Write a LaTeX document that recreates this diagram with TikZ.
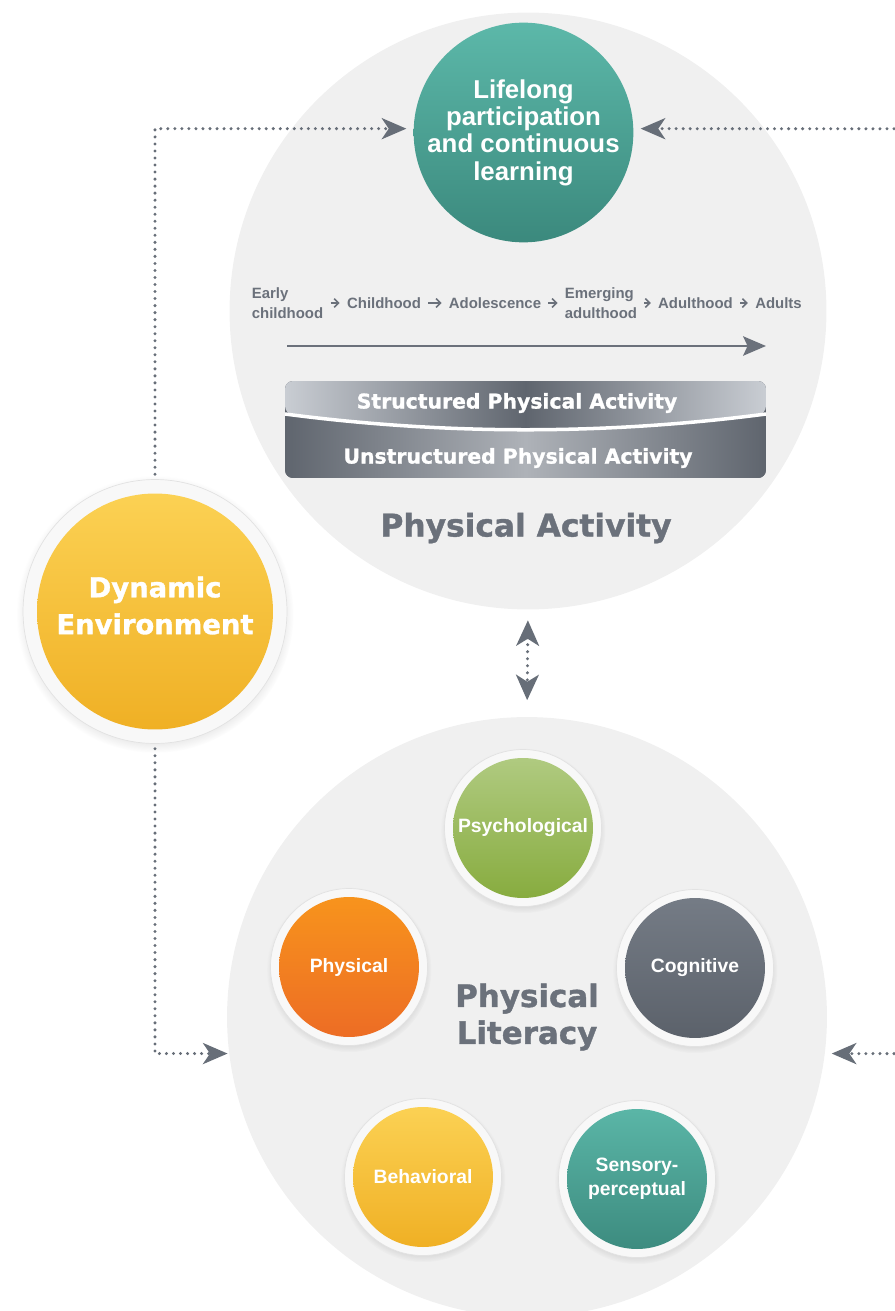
\documentclass[tikz,border=0pt]{standalone}
\usepackage{fontspec}
\setmainfont{Liberation Sans}
\newfontfamily\heavyfont{DejaVu Sans Bold}[FakeBold=1.2]
\usetikzlibrary{arrows.meta,shadows,calc,positioning}
\definecolor{discgray}{HTML}{F0F0F0}
\definecolor{txtgray}{HTML}{6B717B}
\definecolor{linkgray}{HTML}{676E78}
\definecolor{ringwhite}{HTML}{F8F8F8}
\definecolor{ringedge}{HTML}{E2E2E2}
\definecolor{tealA}{HTML}{5CB8A9}
\definecolor{tealB}{HTML}{3B897D}
\definecolor{greenA}{HTML}{B2CC84}
\definecolor{greenB}{HTML}{85AA3B}
\definecolor{orangeA}{HTML}{F8961C}
\definecolor{orangeB}{HTML}{EC6A25}
\definecolor{slateA}{HTML}{767D87}
\definecolor{slateB}{HTML}{5A6069}
\definecolor{goldA}{HTML}{FCD356}
\definecolor{goldB}{HTML}{EFAE22}
\definecolor{bandlt}{HTML}{C9CDD3}
\definecolor{banddk}{HTML}{5F656E}
\definecolor{bandmid}{HTML}{AEB2B8}
\tikzset{
    bigdisc/.style = {circle, fill=discgray, minimum size=12cm,
        inner sep=0pt, outer sep=0pt},
    ring/.style = {circle, fill=ringwhite, draw=ringedge, line width=0.4pt,
        inner sep=0pt, outer sep=0pt,
        circular drop shadow={shadow xshift=0pt, shadow yshift=-1.5pt,
            shadow scale=1.05, opacity=.3}},
    facet/.style 2 args = {ring, minimum size=3.14cm, text=white, align=center,
        font=\fontsize{11}{13.8}\selectfont\bfseries,
        path picture={\shade[top color=#1, bottom color=#2]
            (path picture bounding box.center) circle (1.4cm);}},
    lifebubble/.style = {circle, minimum size=4.26cm, inner sep=0pt,
        top color=tealA, bottom color=tealB, text=white, align=center,
        font=\fontsize{14.7}{15.6}\selectfont\bfseries},
    stage/.style = {inner sep=1.5pt, text=txtgray, align=left,
        font=\fontsize{8.5}{11}\selectfont\bfseries},
    stagearrow/.style = {draw=txtgray, line width=0.9pt,
        shorten <=2.5pt, shorten >=2.5pt,
        -{Straight Barb[length=2.5pt,width=5pt]}},
    tlarrow/.style = {draw=txtgray, line width=1.4pt,
        -{Stealth[length=13pt,width=11pt,inset=2.5pt]}},
    bandtext/.style = {text=white, inner sep=0pt,
        font=\heavyfont\fontsize{11.6}{14}\selectfont},
    title/.style = {text=txtgray, align=center, inner sep=0pt,
        font=\heavyfont\fontsize{17.8}{21}\selectfont},
    link/.style = {draw=linkgray, line width=1.9pt, line cap=round,
        dash pattern=on 0pt off 4pt,
        -{Stealth[length=14pt,width=12pt,inset=4pt]}},
    duo/.style = {link, {Stealth[length=14.5pt,width=13pt,inset=4pt]}-{Stealth[length=14.5pt,width=13pt,inset=4pt]}}
}

\begin{document}
\begin{tikzpicture}[x=0.02cm, y=-0.02cm]
    \useasboundingbox (0,0) rectangle (894,1311);
    % large discs
    \node [bigdisc, minimum size=11.94cm] (pa) at (528,311) {};
    \node [bigdisc] (plit) at (527,1017) {};

    % physical activity
    \node [lifebubble] (life) at (523.5,132.5) {Lifelong\\participation\\and continuous\\learning};
    \node [stage] (early) at (287.5,303) {Early\\childhood};
    \node [stage] (child) at (384,303) {Childhood};
    \node [stage] (adol) at (495,303) {Adolescence};
    \node [stage] (emerg) at (601,303) {Emerging\\adulthood};
    \node [stage] (adulth) at (695.5,303) {Adulthood};
    \node [stage] (adults) at (778.5,303) {Adults};
    \draw [stagearrow] (early) -- (child);
    \draw [stagearrow] (child) -- (adol);
    \draw [stagearrow] (adol) -- (emerg);
    \draw [stagearrow] (emerg) -- (adulth);
    \draw [stagearrow] (adulth) -- (adults);
    \coordinate (tlstart) at (287,346);
    \coordinate (tlend) at (766,346);
    \draw [tlarrow] (tlstart) -- (tlend);

    \node [rectangle, rounded corners=4.5pt, fill=banddk, inner sep=0pt,
        minimum width=9.62cm, minimum height=1.94cm,
        path picture={
            \coordinate (bl) at ($(path picture bounding box.north west)+(0,33)$);
            \coordinate (br) at ($(path picture bounding box.north east)+(0,33)$);
            \shade [left color=bandlt, right color=bandlt, middle color=banddk]
                (path picture bounding box.north west) -- (path picture bounding box.north east)
                -- (br) .. controls +(-160,21) and +(160,21) .. (bl) -- cycle;
            \shade [left color=banddk, right color=banddk, middle color=bandmid]
                (bl) .. controls +(160,21) and +(-160,21) .. (br)
                -- (path picture bounding box.south east) -- (path picture bounding box.south west) -- cycle;
            \draw [white, line width=2pt] (bl) .. controls +(160,21) and +(-160,21) .. (br);
        }] (band) at (525.5,429.5) {};
    \node [bandtext] (struct) at (517,403) {Structured Physical Activity};
    \node [bandtext] (unstruct) at (518,458) {Unstructured Physical Activity};
    \node [title] (patitle) at (526,528) {Physical Activity};

    % dynamic environment
    \node [ring, minimum size=5.28cm,
        path picture={\shade[top color=goldA, bottom color=goldB]
            (path picture bounding box.center) circle (2.36cm);}] (dyn) at (155,611.5) {};
    \node [title, text=white, font=\heavyfont\fontsize{15.6}{21}\selectfont]
        (dyntext) at ($(dyn)+(0,-6)$) {Dynamic\\Environment};

    % physical literacy
    \node [title, font=\heavyfont\fontsize{17.6}{21}\selectfont] (pltitle) at (plit) {Physical\\Literacy};
    \node [facet={greenA}{greenB}] (psych) at (523,828) {Psychological};
    \node [facet={orangeA}{orangeB}] (phys) at (349,967) {Physical};
    \node [facet={slateA}{slateB}] (cogn) at (695,968) {Cognitive};
    \node [facet={goldA}{goldB}] (behav) at (423,1177) {Behavioral};
    \node [facet={tealA}{tealB}] (senso) at (637,1179) {Sensory-\\perceptual};

    % connectors
    \coordinate (etop) at (894,128.8);
    \coordinate (ebot) at (894,1053.6);
    \draw [link, shorten <=3pt, shorten >=4pt] (dyn.north) |- (life.178);
    \draw [link, shorten >=4pt] (etop) -- (life.2);
    \draw [link, shorten <=3pt, shorten >=1pt] (dyn.south) |- (plit.187);
    \draw [link, shorten >=4pt] (ebot) -- (plit.353);
    \draw [duo, shorten <=6.2pt, shorten >=9.6pt] (pa.south) -- (plit.north);
\end{tikzpicture}
\end{document}
